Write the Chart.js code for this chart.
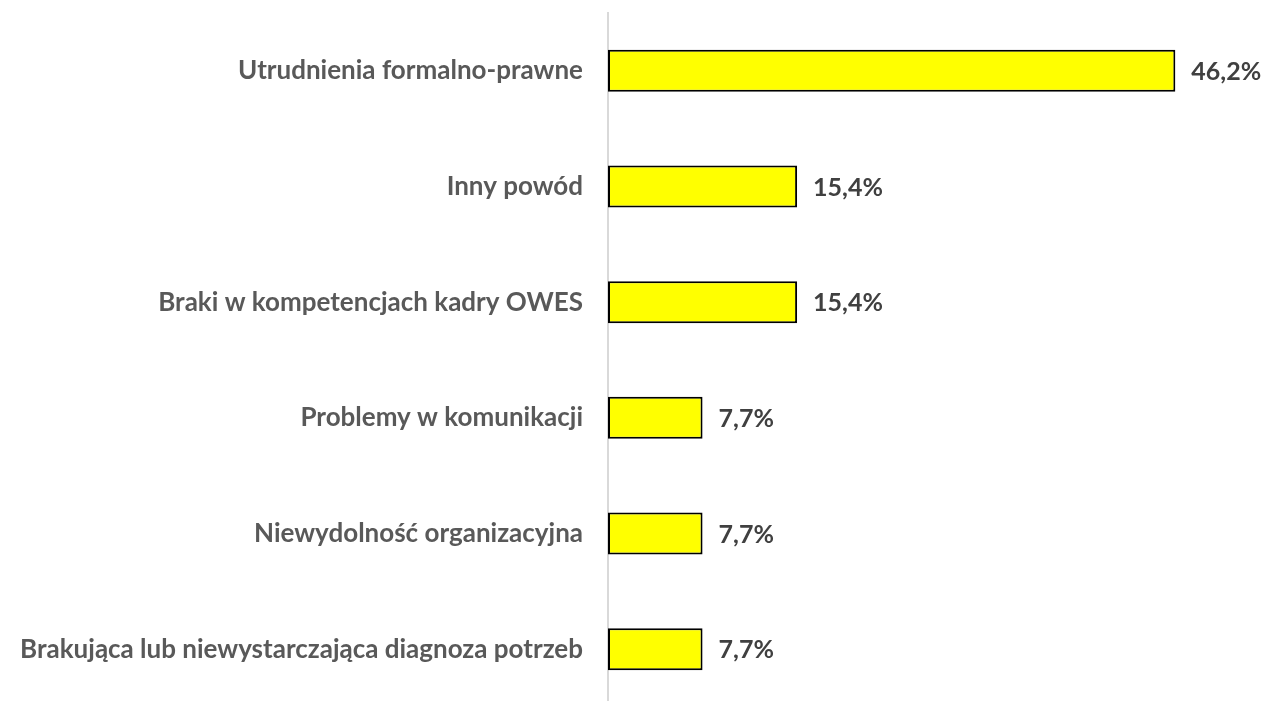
<!DOCTYPE html>
<html>
<head>
<meta charset="utf-8">
<script src="https://cdn.jsdelivr.net/npm/chart.js@4"></script>
<style>
html,body{margin:0;padding:0;background:#fff;overflow:hidden;}
#wrap{position:absolute;left:0;top:0;width:1264px;height:707px;}
</style>
</head>
<body>
<div id="wrap"><canvas id="c"></canvas></div>
<script>
const categories = [
  "Utrudnienia formalno-prawne",
  "Inny powód",
  "Braki w kompetencjach kadry OWES",
  "Problemy w komunikacji",
  "Niewydolność organizacyjna",
  "Brakująca lub niewystarczająca diagnoza potrzeb"
];
const values = [46.2, 15.4, 15.4, 7.7, 7.7, 7.7];
const valueLabels = ["46,2%", "15,4%", "15,4%", "7,7%", "7,7%", "7,7%"];

const FONT = "Lato, 'Open Sans', sans-serif";

const labelPlugin = {
  id: 'valueLabels',
  afterDatasetsDraw(chart) {
    const ctx = chart.ctx;
    const meta = chart.getDatasetMeta(0);
    ctx.save();
    ctx.font = "bold 25px " + FONT;
    ctx.fillStyle = "#404040";
    ctx.textAlign = "left";
    ctx.textBaseline = "middle";
    meta.data.forEach((bar, i) => {
      ctx.fillText(valueLabels[i], bar.x + 16, bar.y + 1);
    });
    ctx.restore();
  }
};

new Chart(document.getElementById('c'), {
  type: 'bar',
  data: {
    labels: categories,
    datasets: [{
      data: values,
      backgroundColor: '#ffff00',
      borderColor: '#000000',
      borderWidth: 2,
      borderSkipped: false,
      barPercentage: 0.363,
      categoryPercentage: 1.0
    }]
  },
  options: {
    indexAxis: 'y',
    responsive: true,
    maintainAspectRatio: false,
    animation: false,
    layout: { padding: { top: 13, right: 42, bottom: 0, left: 0 } },
    plugins: { legend: { display: false }, tooltip: { enabled: false } },
    scales: {
      x: { display: false, min: 0, max: 50 },
      y: {
        afterFit(scale) { scale.width = 608; scale.paddingTop = 0; scale.paddingBottom = 0; },
        grid: { display: false, drawTicks: false },
        border: { display: true, color: '#d9d9d9', width: 2 },
        ticks: {
          padding: 25,
          color: '#595959',
          font: { family: FONT, size: 26, weight: 'bold' }
        }
      }
    }
  },
  plugins: [labelPlugin]
});
</script>
</body>
</html>
